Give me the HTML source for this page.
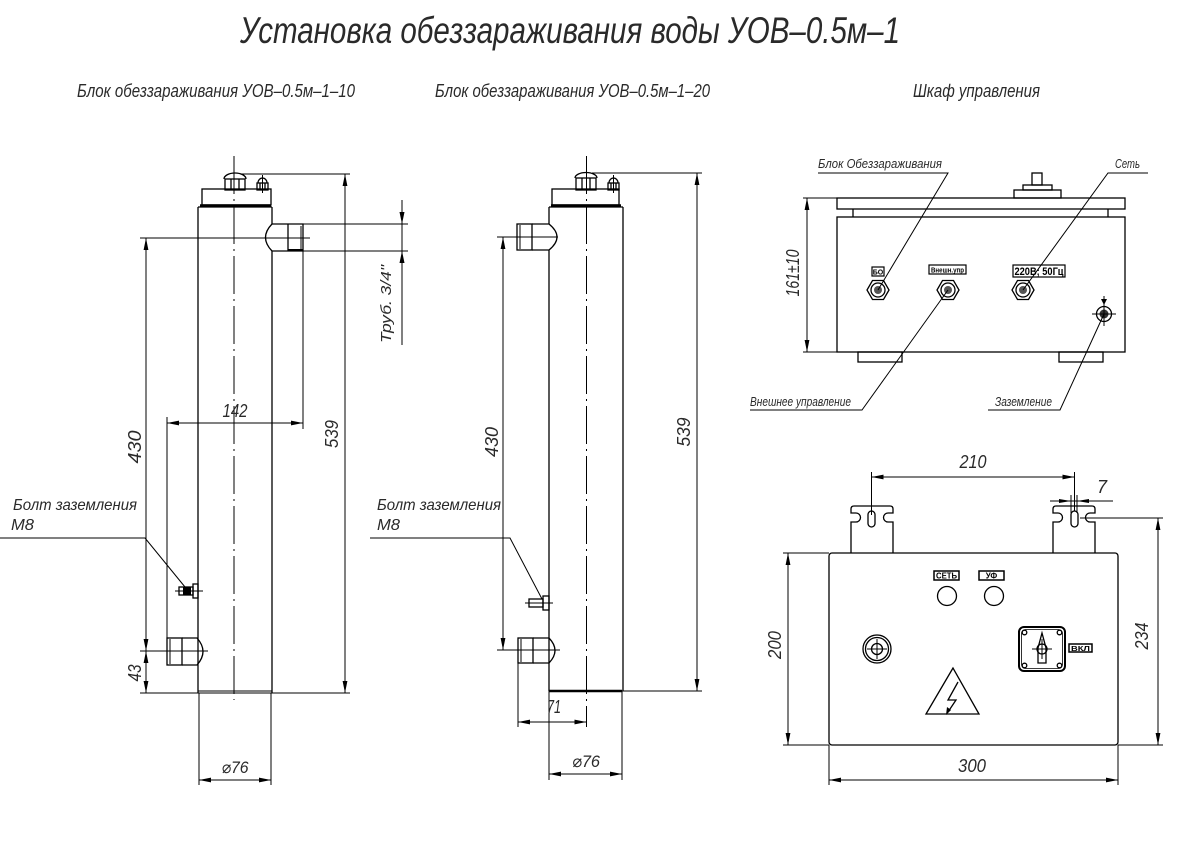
<!DOCTYPE html>
<html><head><meta charset="utf-8">
<style>
html,body{margin:0;padding:0;background:#fff;}
svg{display:block;}
text{font-family:"Liberation Sans","DejaVu Sans",sans-serif;font-style:italic;fill:#2a2a2a;}
.b{font-style:normal;font-weight:bold;fill:#000;}
</style></head><body>
<svg width="1183" height="847" viewBox="0 0 1183 847" xmlns="http://www.w3.org/2000/svg">
<defs>
<marker id="a" viewBox="0 0 12 6" refX="12" refY="3" markerWidth="12" markerHeight="6" orient="auto-start-reverse" markerUnits="userSpaceOnUse"><path d="M0,0.6 L12,3 L0,5.4 z" fill="#000"/></marker>
</defs>

<!-- Titles -->
<text x="240" y="43" font-size="37" textLength="660" lengthAdjust="spacingAndGlyphs">Установка обеззараживания воды УОВ–0.5м–1</text>
<text x="77" y="97" font-size="18" textLength="278" lengthAdjust="spacingAndGlyphs">Блок обеззараживания УОВ–0.5м–1–10</text>
<text x="435" y="97" font-size="18" textLength="275" lengthAdjust="spacingAndGlyphs">Блок обеззараживания УОВ–0.5м–1–20</text>
<text x="913" y="97" font-size="18" textLength="127" lengthAdjust="spacingAndGlyphs">Шкаф управления</text>

<!-- ============ LEFT BLOCK ============ -->
<g stroke="#000" fill="none" stroke-width="1.3">
  <line x1="234" y1="156" x2="234" y2="700" stroke-dasharray="38 5 2 5" stroke-width="1"/>
  <line x1="198" y1="207" x2="198" y2="693"/>
  <line x1="272" y1="207" x2="272" y2="224"/>
  <line x1="272" y1="251" x2="272" y2="693"/>
  <line x1="198" y1="207" x2="272" y2="207"/>
  <line x1="200" y1="205.5" x2="271" y2="205.5" stroke-width="2.5"/>
  <rect x="202" y="189" width="69" height="16"/>
  <rect x="225" y="179" width="20" height="11"/>
  <line x1="231" y1="179" x2="231" y2="190"/><line x1="239" y1="179" x2="239" y2="190"/>
  <path d="M224,179 A11,6 0 0 1 246,179"/>
  <rect x="257" y="183" width="11" height="7"/>
  <path d="M258,183 A4.5,5 0 0 1 267,183"/>
  <line x1="260" y1="183" x2="260" y2="190"/><line x1="265" y1="183" x2="265" y2="190"/>
  <line x1="262.5" y1="175" x2="262.5" y2="193" stroke-width="1"/>
  <path d="M272,224 L303,224 L303,251 L272,251"/>
  <line x1="288" y1="224" x2="288" y2="251"/>
  <line x1="301" y1="226" x2="301" y2="249" stroke-width="1"/>
  <line x1="288" y1="250" x2="303" y2="250" stroke-width="2"/>
  <path d="M272,224 Q259,237.5 272,251"/>
  <rect x="167" y="638" width="15" height="27"/>
  <line x1="170" y1="639" x2="170" y2="664" stroke-width="1"/>
  <path d="M182,638 L197,638 Q209,651.5 197,665 L182,665"/>
  <rect x="179" y="587" width="14" height="8"/>
  <rect x="183" y="587.5" width="8" height="7" fill="#000" stroke="none"/>
  <rect x="193" y="584" width="5" height="14"/>
  <line x1="198" y1="691" x2="272" y2="691" stroke-width="1"/>
</g>
<g stroke="#000" fill="none" stroke-width="1">
  <line x1="175" y1="591" x2="203" y2="591"/>
  <line x1="140" y1="238" x2="310" y2="238"/>
  <line x1="140" y1="651" x2="208" y2="651"/>
  <line x1="240" y1="174" x2="350" y2="174"/>
  <line x1="140" y1="693" x2="350" y2="693"/>
  <line x1="345" y1="174" x2="345" y2="693" marker-start="url(#a)" marker-end="url(#a)"/>
  <line x1="146" y1="238" x2="146" y2="651" marker-start="url(#a)" marker-end="url(#a)"/>
  <line x1="146" y1="651" x2="146" y2="693" marker-start="url(#a)" marker-end="url(#a)"/>
  <line x1="303" y1="224" x2="408" y2="224"/>
  <line x1="303" y1="251" x2="408" y2="251"/>
  <line x1="402" y1="200" x2="402" y2="345"/>
  <line x1="167" y1="417" x2="167" y2="638"/>
  <line x1="303" y1="251" x2="303" y2="429"/>
  <line x1="167" y1="423" x2="303" y2="423" marker-start="url(#a)" marker-end="url(#a)"/>
  <line x1="199" y1="693" x2="199" y2="785"/>
  <line x1="271" y1="693" x2="271" y2="785"/>
  <line x1="199" y1="780" x2="271" y2="780" marker-start="url(#a)" marker-end="url(#a)"/>
  <polyline points="0,538 145,538 185,587"/>
</g>
<polygon points="402,224 399.5,212 404.5,212" fill="#000"/>
<polygon points="402,251 399.5,263 404.5,263" fill="#000"/>
<text font-size="15" text-anchor="middle" transform="translate(391,304) rotate(-90)" textLength="78" lengthAdjust="spacingAndGlyphs">Труб. 3/4"</text>
<text x="235" y="417" font-size="18" text-anchor="middle" textLength="25" lengthAdjust="spacingAndGlyphs">142</text>
<text font-size="18" text-anchor="middle" transform="translate(141,447) rotate(-90)" textLength="33" lengthAdjust="spacingAndGlyphs">430</text>
<text font-size="18" text-anchor="middle" transform="translate(338,434) rotate(-90)" textLength="28" lengthAdjust="spacingAndGlyphs">539</text>
<text font-size="18" text-anchor="middle" transform="translate(141,673) rotate(-90)" textLength="17" lengthAdjust="spacingAndGlyphs">43</text>
<text x="235" y="773" font-size="17" text-anchor="middle" textLength="27" lengthAdjust="spacingAndGlyphs">⌀76</text>
<text x="13" y="510" font-size="16" textLength="124" lengthAdjust="spacingAndGlyphs">Болт заземления</text>
<text x="11" y="530" font-size="16" textLength="23" lengthAdjust="spacingAndGlyphs">М8</text>

<!-- ============ MIDDLE BLOCK ============ -->
<g stroke="#000" fill="none" stroke-width="1.3">
  <line x1="586.5" y1="156" x2="586.5" y2="727" stroke-dasharray="38 5 2 5" stroke-width="1"/>
  <line x1="549" y1="207" x2="549" y2="224"/>
  <line x1="549" y1="250" x2="549" y2="691"/>
  <line x1="623" y1="207" x2="623" y2="691"/>
  <line x1="549" y1="207" x2="623" y2="207"/>
  <line x1="551" y1="205.5" x2="621" y2="205.5" stroke-width="2.5"/>
  <rect x="552" y="189" width="67" height="16"/>
  <rect x="576" y="178" width="20" height="12"/>
  <line x1="582" y1="178" x2="582" y2="190"/><line x1="590" y1="178" x2="590" y2="190"/>
  <path d="M575,178 A11,5.5 0 0 1 597,178"/>
  <rect x="608" y="183" width="11" height="7"/>
  <path d="M609,183 A4.5,5 0 0 1 618,183"/>
  <line x1="611" y1="183" x2="611" y2="190"/><line x1="616" y1="183" x2="616" y2="190"/>
  <line x1="613.5" y1="175" x2="613.5" y2="193" stroke-width="1"/>
  <rect x="517" y="224" width="15" height="26"/>
  <line x1="520" y1="225" x2="520" y2="249" stroke-width="1"/>
  <path d="M532,224 L549,224 Q565,237 549,250 L532,250"/>
  <rect x="518" y="638" width="15" height="25"/>
  <line x1="521" y1="639" x2="521" y2="662" stroke-width="1"/>
  <path d="M533,638 L549,638 Q561,650.5 549,663 L533,663"/>
  <rect x="529" y="599" width="14" height="8"/>
  <rect x="543" y="596" width="6" height="14"/>
  <line x1="549" y1="691" x2="622" y2="691" stroke-width="2.5"/>
</g>
<g stroke="#000" fill="none" stroke-width="1">
  <line x1="525" y1="603" x2="553" y2="603"/>
  <line x1="497" y1="237" x2="558" y2="237"/>
  <line x1="497" y1="650" x2="560" y2="650"/>
  <line x1="503" y1="237" x2="503" y2="650" marker-start="url(#a)" marker-end="url(#a)"/>
  <line x1="592" y1="173" x2="702" y2="173"/>
  <line x1="622" y1="691" x2="702" y2="691"/>
  <line x1="697" y1="173" x2="697" y2="691" marker-start="url(#a)" marker-end="url(#a)"/>
  <line x1="518" y1="663" x2="518" y2="727"/>
  <line x1="518" y1="722" x2="586.5" y2="722" marker-start="url(#a)" marker-end="url(#a)"/>
  <line x1="549" y1="691" x2="549" y2="780"/>
  <line x1="622" y1="691" x2="622" y2="780"/>
  <line x1="549" y1="774" x2="622" y2="774" marker-start="url(#a)" marker-end="url(#a)"/>
  <polyline points="370,538 510,538 542,599"/>
</g>
<text font-size="18" text-anchor="middle" transform="translate(498,442) rotate(-90)" textLength="30" lengthAdjust="spacingAndGlyphs">430</text>
<text font-size="18" text-anchor="middle" transform="translate(690,432) rotate(-90)" textLength="29" lengthAdjust="spacingAndGlyphs">539</text>
<text x="554" y="713" font-size="18" text-anchor="middle" textLength="14" lengthAdjust="spacingAndGlyphs">71</text>
<text x="586" y="767" font-size="17" text-anchor="middle" textLength="28" lengthAdjust="spacingAndGlyphs">⌀76</text>
<text x="377" y="510" font-size="16" textLength="124" lengthAdjust="spacingAndGlyphs">Болт заземления</text>
<text x="377" y="530" font-size="16" textLength="23" lengthAdjust="spacingAndGlyphs">М8</text>

<!-- ============ CABINET TOP VIEW ============ -->
<g stroke="#000" fill="none" stroke-width="1.3">
  <rect x="837" y="198" width="288" height="11"/>
  <line x1="853" y1="209" x2="853" y2="217"/>
  <line x1="1108" y1="209" x2="1108" y2="217"/>
  <rect x="837" y="217" width="288" height="135"/>
  <rect x="858" y="352" width="44" height="10"/>
  <rect x="1059" y="352" width="44" height="10"/>
  <rect x="1014" y="190" width="47" height="8"/>
  <rect x="1023" y="185" width="29" height="5"/>
  <rect x="1032" y="173" width="10" height="12"/>
  <polygon points="889,290 883.5,299.5 872.5,299.5 867,290 872.5,280.5 883.5,280.5"/>
  <circle cx="878" cy="290" r="7"/>
  <polygon points="959,290 953.5,299.5 942.5,299.5 937,290 942.5,280.5 953.5,280.5"/>
  <circle cx="948" cy="290" r="7"/>
  <polygon points="1034,290 1028.5,299.5 1017.5,299.5 1012,290 1017.5,280.5 1028.5,280.5"/>
  <circle cx="1023" cy="290" r="7"/>
  <circle cx="1104" cy="314" r="7.5"/>
</g>
<circle cx="878" cy="290" r="4" fill="#555"/>
<circle cx="948" cy="290" r="4" fill="#555"/>
<circle cx="1023" cy="290" r="4" fill="#555"/>
<circle cx="1104" cy="314" r="4.5" fill="#333"/>
<g stroke="#000" fill="none" stroke-width="1">
  <line x1="1092" y1="314" x2="1116" y2="314"/>
  <line x1="1104" y1="303" x2="1104" y2="326"/>
  <line x1="1104" y1="296" x2="1104" y2="302"/>
  <line x1="803" y1="198" x2="837" y2="198"/>
  <line x1="803" y1="352" x2="837" y2="352"/>
  <line x1="807" y1="198" x2="807" y2="352" marker-start="url(#a)" marker-end="url(#a)"/>
  <polyline points="818,173 948,173 878,290"/>
  <polyline points="1148,173 1108,173 1023,290"/>
  <polyline points="750,410 862,410 948,290"/>
  <polyline points="988,410 1060,410 1104,314"/>
</g>
<polygon points="1104,305 1101,299 1107,299" fill="#000"/>
<rect x="872" y="267" width="12" height="9" fill="none" stroke="#000" stroke-width="1.2"/>
<text x="878" y="274.5" font-size="7" text-anchor="middle" class="b">БО</text>
<rect x="929" y="265" width="37" height="9" fill="none" stroke="#000" stroke-width="1.2"/>
<text x="947.5" y="272.5" font-size="7" text-anchor="middle" class="b" textLength="33" lengthAdjust="spacingAndGlyphs">Внешн.упр</text>
<rect x="1013" y="265" width="52" height="12" fill="none" stroke="#000" stroke-width="1.2"/>
<text x="1039" y="275" font-size="11" text-anchor="middle" class="b" textLength="49" lengthAdjust="spacingAndGlyphs">220В; 50Гц</text>
<text font-size="18" text-anchor="middle" transform="translate(799,273) rotate(-90)" textLength="47" lengthAdjust="spacingAndGlyphs">161±10</text>
<text x="818" y="168" font-size="13" textLength="124" lengthAdjust="spacingAndGlyphs">Блок Обеззараживания</text>
<text x="1115" y="168" font-size="13" textLength="25" lengthAdjust="spacingAndGlyphs">Сеть</text>
<text x="750" y="406" font-size="13" textLength="101" lengthAdjust="spacingAndGlyphs">Внешнее управление</text>
<text x="995" y="406" font-size="13" textLength="57" lengthAdjust="spacingAndGlyphs">Заземление</text>

<!-- ============ CABINET FRONT VIEW ============ -->
<g stroke="#000" fill="none" stroke-width="1.3">
  <rect x="829" y="553" width="289" height="192" rx="3"/>
  <path d="M851,553 V522 H856 A4.5,4.5 0 0 0 856,513 H851 V509 Q851,506 854,506 H890 Q893,506 893,509 V513 H888 A4.5,4.5 0 0 0 888,522 H893 V553"/>
  <rect x="868" y="511" width="7" height="16" rx="3.5"/>
  <path d="M1053,553 V522 H1058 A4.5,4.5 0 0 0 1058,513 H1053 V509 Q1053,506 1056,506 H1092 Q1095,506 1095,509 V513 H1090 A4.5,4.5 0 0 0 1090,522 H1095 V553"/>
  <rect x="1071" y="511" width="7" height="16" rx="3.5"/>
  <circle cx="947" cy="596" r="9.5"/>
  <circle cx="994" cy="596" r="9.5"/>
  <circle cx="877" cy="649" r="14"/>
  <circle cx="877" cy="649" r="11.5"/>
  <circle cx="877" cy="649" r="5.5"/>
  <polygon points="953,668 926,714 979,714"/>
  <path d="M958,682 L948,700 L956,700 L948,712"/>
  <rect x="1019" y="627" width="46" height="44" rx="5" stroke-width="2"/>
  <rect x="1021.5" y="629.5" width="41" height="39" rx="4" stroke-width="0.8"/>
  <circle cx="1024.5" cy="632.5" r="2.3"/>
  <circle cx="1059.5" cy="632.5" r="2.3"/>
  <circle cx="1024.5" cy="665.5" r="2.3"/>
  <circle cx="1059.5" cy="665.5" r="2.3"/>
  <path d="M1042,633 L1046,648 L1046,663 L1038,663 L1038,648 Z"/>
  <circle cx="1042" cy="649" r="5"/>
</g>
<polygon points="946,715 947,707 951,710" fill="#000"/>
<g stroke="#000" fill="none" stroke-width="1">
  <line x1="867" y1="649" x2="887" y2="649"/>
  <line x1="877" y1="639" x2="877" y2="659"/>
  <line x1="1032" y1="649" x2="1052" y2="649"/>
  <line x1="1042" y1="639" x2="1042" y2="659"/>
  <line x1="871.5" y1="472" x2="871.5" y2="515"/>
  <line x1="1074.5" y1="472" x2="1074.5" y2="511"/>
  <line x1="871.5" y1="477" x2="1074.5" y2="477" marker-start="url(#a)" marker-end="url(#a)"/>
  <line x1="1071" y1="495" x2="1071" y2="513"/>
  <line x1="1077" y1="495" x2="1077" y2="513"/>
  <line x1="1050" y1="501" x2="1113" y2="501"/>
  <line x1="1080" y1="518" x2="1163" y2="518"/>
  <line x1="1118" y1="745" x2="1163" y2="745"/>
  <line x1="1158" y1="518" x2="1158" y2="745" marker-start="url(#a)" marker-end="url(#a)"/>
  <line x1="783" y1="553" x2="829" y2="553"/>
  <line x1="783" y1="745" x2="829" y2="745"/>
  <line x1="788" y1="553" x2="788" y2="745" marker-start="url(#a)" marker-end="url(#a)"/>
  <line x1="829" y1="745" x2="829" y2="785"/>
  <line x1="1118" y1="745" x2="1118" y2="785"/>
  <line x1="829" y1="780" x2="1118" y2="780" marker-start="url(#a)" marker-end="url(#a)"/>
</g>
<polygon points="1071,501 1059,499 1059,503" fill="#000"/>
<polygon points="1077,501 1089,499 1089,503" fill="#000"/>
<rect x="934" y="571" width="25" height="9" fill="none" stroke="#000" stroke-width="1.5"/>
<text x="946.5" y="578.5" font-size="8" text-anchor="middle" class="b" textLength="21" lengthAdjust="spacingAndGlyphs">СЕТЬ</text>
<rect x="979" y="571" width="25" height="9" fill="none" stroke="#000" stroke-width="1.5"/>
<text x="991.5" y="578.5" font-size="8" text-anchor="middle" class="b">УФ</text>
<rect x="1069" y="644" width="23" height="8" fill="none" stroke="#000" stroke-width="1.5"/>
<text x="1080.5" y="651" font-size="7" text-anchor="middle" class="b" textLength="19" lengthAdjust="spacingAndGlyphs">ВКЛ</text>
<text x="973" y="468" font-size="18" text-anchor="middle" textLength="27" lengthAdjust="spacingAndGlyphs">210</text>
<text x="1097" y="493" font-size="18">7</text>
<text font-size="18" text-anchor="middle" transform="translate(1148,636) rotate(-90)" textLength="27" lengthAdjust="spacingAndGlyphs">234</text>
<text font-size="18" text-anchor="middle" transform="translate(781,645) rotate(-90)" textLength="28" lengthAdjust="spacingAndGlyphs">200</text>
<text x="972" y="772" font-size="18" text-anchor="middle" textLength="28" lengthAdjust="spacingAndGlyphs">300</text>
</svg>
</body></html>
